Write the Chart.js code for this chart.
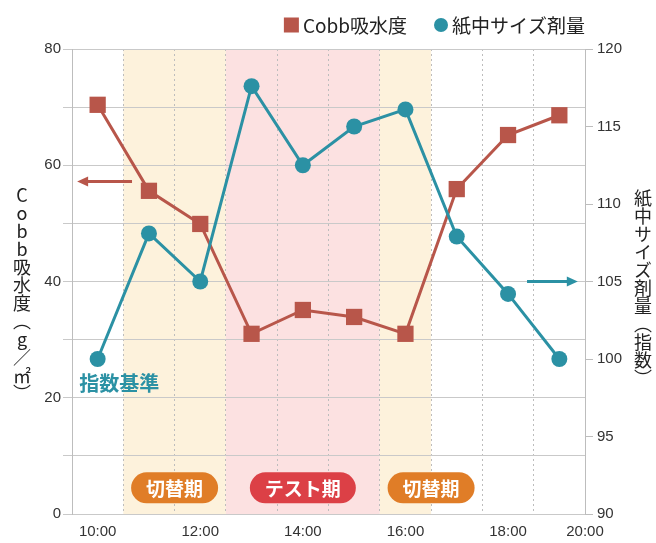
<!DOCTYPE html>
<html>
<head>
<meta charset="utf-8">
<script src="https://cdn.jsdelivr.net/npm/chart.js@4.4.1/dist/chart.umd.min.js"></script>
<style>
  html, body { margin: 0; padding: 0; background: #fff; }
  #wrap { position: relative; width: 656px; height: 543px; }
  .vtitle {
    position: absolute;
    writing-mode: vertical-rl;
    text-orientation: upright;
    font: 18px 'Noto Sans CJK JP', sans-serif;
    line-height: 18px;
    color: #222;
  }
</style>
</head>
<body>
<div id="wrap">
  <canvas id="chart" width="656" height="543"></canvas>
  <div class="vtitle" style="left:13px; top:186px;">Cobb吸水度（g／㎡）</div>
  <div class="vtitle" style="left:634px; top:189px;">紙中サイズ剤量（指数）</div>
</div>
<script>
// data
const categories = ['10:00', '11:00', '12:00', '13:00', '14:00', '15:00', '16:00', '17:00', '18:00', '19:00'];
const cobb = [70.4, 55.6, 49.9, 31.0, 35.1, 33.9, 31.0, 55.9, 65.2, 68.6];
const sizing = [100, 108.1, 105, 117.6, 112.5, 115, 116.1, 107.9, 104.2, 100];

// x axis labels, placed in category-index units
const xTickLabels = ['10:00', '12:00', '14:00', '16:00', '18:00', '20:00'];
const xTickAt = [0, 2, 4, 6, 8, 9.5];

// shaded periods (category-index units)
const periodLabels = ['切替期', 'テスト期', '切替期'];
const periodFrom = [0.5, 2.5, 5.5];
const periodTo = [2.5, 5.5, 6.5];
const periodLabelAt = [1.5, 4, 6.5];

const RED = '#b8564a';
const TEAL = '#2b91a4';
const GRID = '#c9c9c9';
const TICK_FONT = { family: "'Liberation Sans', Arial, sans-serif", size: 15 };
const JP = "'Noto Sans CJK JP', sans-serif";

const bandColor = ['#fdf2dc', '#fce1e1', '#fdf2dc'];
const pillColor = ['#e07d27', '#dc4046', '#e07d27'];

// every half hour line + label positions
const xTicks = [];
for (let i = 0; i <= categories.length; i++) xTicks.push(i - 0.5);
xTickAt.forEach(v => { if (!xTicks.includes(v)) xTicks.push(v); });
xTicks.sort((a, b) => a - b);

const backdrop = {
  id: 'backdrop',
  beforeDraw(chart) {
    const { ctx, chartArea: a, scales: { x } } = chart;
    ctx.save();
    ctx.fillStyle = '#fff';
    ctx.fillRect(0, 0, chart.width, chart.height);
    periodFrom.forEach((from, i) => {
      const x0 = x.getPixelForValue(from);
      const x1 = x.getPixelForValue(periodTo[i]);
      ctx.fillStyle = bandColor[i];
      ctx.fillRect(x0, a.top, x1 - x0, a.bottom - a.top);
    });
    ctx.restore();
  }
};

function arrow(ctx, x0, x1, y, color) {
  const dir = Math.sign(x1 - x0);
  ctx.strokeStyle = color;
  ctx.fillStyle = color;
  ctx.lineWidth = 3;
  ctx.beginPath();
  ctx.moveTo(x0, y);
  ctx.lineTo(x1 - dir * 8, y);
  ctx.stroke();
  ctx.beginPath();
  ctx.moveTo(x1, y);
  ctx.lineTo(x1 - dir * 11, y - 5);
  ctx.lineTo(x1 - dir * 11, y + 5);
  ctx.closePath();
  ctx.fill();
}

const notes = {
  id: 'notes',
  afterDraw(chart) {
    const { ctx, scales: { x, y, y1 } } = chart;
    ctx.save();

    // period pills
    ctx.font = 'bold 19px ' + JP;
    ctx.textAlign = 'center';
    ctx.textBaseline = 'middle';
    periodLabels.forEach((txt, i) => {
      const cx = x.getPixelForValue(periodLabelAt[i]);
      const cy = y.getPixelForValue(4.5);
      const w = ctx.measureText(txt).width + 30;
      const h = 31;
      ctx.fillStyle = pillColor[i];
      ctx.beginPath();
      ctx.roundRect(cx - w / 2, cy - h / 2, w, h, h / 2);
      ctx.fill();
      ctx.fillStyle = '#fff';
      ctx.fillText(txt, cx, cy + 1);
    });

    // axis arrows
    arrow(ctx, x.getPixelForValue(0.67), x.getPixelForValue(-0.4), y.getPixelForValue(57.2), RED);
    arrow(ctx, x.getPixelForValue(8.37), x.getPixelForValue(9.36), y1.getPixelForValue(105), TEAL);

    // index baseline note
    ctx.font = 'bold 20px ' + JP;
    ctx.fillStyle = TEAL;
    ctx.fillText('指数基準', x.getPixelForValue(0.42), y.getPixelForValue(22.4));

    // legend, right aligned to the plot
    ctx.font = '19px ' + JP;
    ctx.textAlign = 'left';
    ctx.fillStyle = '#222';
    const ds = chart.data.datasets;
    const ly = 25;
    const right = chart.chartArea.right;
    const w1 = ctx.measureText(ds[1].label).width;
    const t1 = right - w1;
    ctx.fillText(ds[1].label, t1, ly + 1);
    ctx.fillStyle = TEAL;
    ctx.beginPath();
    ctx.arc(t1 - 11, ly, 7, 0, Math.PI * 2);
    ctx.fill();
    const t0end = t1 - 18 - 27;
    const w0 = ctx.measureText(ds[0].label).width;
    ctx.fillStyle = '#222';
    ctx.fillText(ds[0].label, t0end - w0, ly + 1);
    ctx.fillStyle = RED;
    ctx.fillRect(t0end - w0 - 19, ly - 7.5, 15, 15);

    ctx.restore();
  }
};

new Chart(document.getElementById('chart'), {
  type: 'line',
  data: {
    datasets: [
      {
        label: 'Cobb吸水度',
        data: cobb.map((v, i) => ({ x: i, y: v })),
        yAxisID: 'y',
        order: 1,
        borderColor: RED,
        backgroundColor: RED,
        borderWidth: 3,
        pointStyle: 'rect',
        pointRadius: 11.5,
        pointHoverRadius: 11.5,
        pointBorderWidth: 0
      },
      {
        label: '紙中サイズ剤量',
        data: sizing.map((v, i) => ({ x: i, y: v })),
        yAxisID: 'y1',
        order: 0,
        borderColor: TEAL,
        backgroundColor: TEAL,
        borderWidth: 3,
        pointStyle: 'circle',
        pointRadius: 8,
        pointHoverRadius: 8,
        pointBorderWidth: 0
      }
    ]
  },
  options: {
    responsive: false,
    animation: false,
    layout: { padding: { top: 49, left: 0, right: 0, bottom: 0 } },
    plugins: { legend: { display: false }, tooltip: { enabled: false } },
    scales: {
      x: {
        type: 'linear',
        min: -0.5,
        max: categories.length - 0.5,
        afterBuildTicks: s => { s.ticks = xTicks.map(v => ({ value: v })); },
        grid: {
          color: c => {
            const v = c.tick ? c.tick.value : 0;
            const edge = v === -0.5 || v === categories.length - 0.5;
            return (Math.abs(v % 1) === 0.5 && !edge) ? '#bdbdbd' : 'rgba(0,0,0,0)';
          },
          drawTicks: false,
          lineWidth: 1
        },
        border: { display: false, dash: [2, 3] },
        ticks: {
          autoSkip: false,
          maxRotation: 0,
          padding: 9,
          color: '#333',
          font: TICK_FONT,
          callback: v => {
            const k = xTickAt.indexOf(v);
            return k >= 0 ? xTickLabels[k] : '';
          }
        },
        afterFit: s => { s.height = 29; }
      },
      y: {
        position: 'left',
        min: 0,
        max: 80,
        ticks: {
          stepSize: 10,
          padding: 2,
          color: '#333',
          font: TICK_FONT,
          callback: v => (v % 20 === 0 ? v : '')
        },
        grid: { color: GRID, tickLength: 9, lineWidth: 1 },
        border: { color: '#bdbdbd' },
        afterFit: s => { s.width = 72; }
      },
      y1: {
        position: 'right',
        min: 90,
        max: 120,
        ticks: { stepSize: 5, padding: 4, color: '#333', font: TICK_FONT },
        grid: { drawOnChartArea: false, color: '#bdbdbd', tickLength: 8 },
        border: { color: '#bdbdbd' },
        afterFit: s => { s.width = 71; }
      }
    }
  },
  plugins: [backdrop, notes]
});
</script>
</body>
</html>
